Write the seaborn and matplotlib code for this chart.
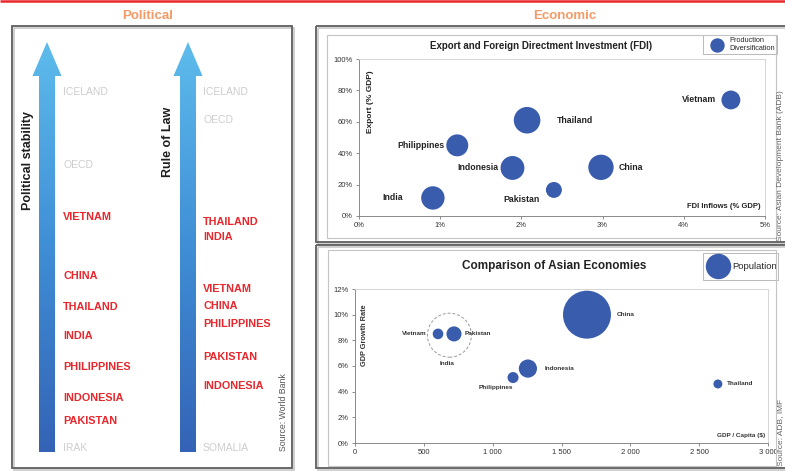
import numpy as np
import pandas as pd
import matplotlib
matplotlib.use("Agg")
import matplotlib.pyplot as plt
import seaborn as sns
from matplotlib.patches import Rectangle, Polygon
from matplotlib.colors import LinearSegmentedColormap
from matplotlib.lines import Line2D
from matplotlib.legend_handler import HandlerLine2D

# ---------------- data ----------------
# Political rankings (percentile scale: 0 = worst, 100 = best)
stability_labels = ["ICELAND", "OECD", "VIETNAM", "CHINA", "THAILAND", "INDIA",
                    "PHILIPPINES", "INDONESIA", "PAKISTAN", "IRAK"]
stability_scores = [100, 79.5, 64.9, 48.3, 39.6, 31.5, 22.8, 14.0, 7.6, 0]
law_labels = ["ICELAND", "OECD", "THAILAND", "INDIA", "VIETNAM", "CHINA",
              "PHILIPPINES", "PAKISTAN", "INDONESIA", "SOMALIA"]
law_scores = [100, 92.1, 63.5, 59.3, 44.7, 39.9, 34.8, 25.6, 17.4, 0]
benchmarks = {"ICELAND", "OECD", "IRAK", "SOMALIA"}

# Exports vs FDI inflows, bubble = production diversification
fdi_countries = ["India", "Philippines", "Indonesia", "Thailand", "Pakistan", "China", "Vietnam"]
fdi_inflows = [0.91, 1.21, 1.89, 2.07, 2.40, 2.98, 4.58]          # % of GDP
exports_gdp = [11.5, 45.0, 30.6, 61.0, 16.6, 31.0, 73.9]          # % of GDP
diversification = [6.9, 6.1, 7.2, 8.9, 3.2, 8.1, 4.5]

# GDP growth vs GDP per capita, bubble = population (millions)
eco_countries = ["Vietnam", "India", "Pakistan", "China", "Indonesia", "Philippines", "Thailand"]
gdp_per_capita = [603, 686, 719, 1685, 1256, 1148, 2636]
gdp_growth = [8.5, 8.4, 8.5, 10.0, 5.8, 5.1, 4.6]
population = [65, 1110, 130, 1320, 190, 70, 46]

# ---------------- style ----------------
sns.set_theme(style="white")
plt.rcParams["font.family"] = ["Liberation Sans", "DejaVu Sans"]

W, H = 785, 471
BLUE = "#3A5CAD"
RED = "#E8262B"
ORANGE = "#F39A66"
PX = 0.72  # points per pixel at 100 dpi


def fx(px):
    return px / W


def fy(py):
    return 1 - py / H


class CenteredMarkerHandler(HandlerLine2D):
    """Legend handler that keeps the marker vertically centred in its box."""

    def create_artists(self, legend, orig_handle, xdescent, ydescent, width, height,
                       fontsize, trans):
        return super().create_artists(legend, orig_handle, xdescent, 2 * ydescent,
                                      width, height, fontsize, trans)


fig = plt.figure(figsize=(W / 100, H / 100), dpi=100)

# ---------------- economic charts ----------------
ax1 = fig.add_axes([fx(359), fy(216), (765 - 359) / W, (216 - 59) / H])
ax2 = fig.add_axes([fx(355), fy(443), (768 - 355) / W, (443 - 289) / H])

fdi_df = pd.DataFrame({"country": fdi_countries, "fdi": fdi_inflows,
                       "exports": exports_gdp, "div": diversification})
eco_df = pd.DataFrame({"country": eco_countries, "gdppc": gdp_per_capita,
                       "growth": gdp_growth, "pop": population})

sns.scatterplot(data=fdi_df, x="fdi", y="exports", size="div",
                sizes=(0, 411), size_norm=(0, 10), color=BLUE,
                linewidth=0, legend=False, ax=ax1, zorder=3)

filled = eco_df[eco_df["country"] != "India"]
hollow = eco_df[eco_df["country"] == "India"]
sns.scatterplot(data=filled, x="gdppc", y="growth", size="pop",
                sizes=(0, 1355), size_norm=(0, 1500), color=BLUE,
                linewidth=0, legend=False, ax=ax2, zorder=3)
sns.scatterplot(data=hollow, x="gdppc", y="growth", size="pop",
                sizes=(0, 1355), size_norm=(0, 1500), color=BLUE,
                legend=False, ax=ax2, zorder=2)
ring = ax2.collections[-1]
ring.set_facecolor("none")
ring.set_edgecolor("#9A9A9A")
ring.set_linewidth(0.7)
ring.set_linestyle((0, (3, 2)))

# label offsets in pixels (dx right, dy down) and alignment
fdi_label_pos = {"India": (-30, 0, "right"), "Philippines": (-13, 0, "right"),
                 "Indonesia": (-14, 0, "right"), "Thailand": (30, 0, "left"),
                 "Pakistan": (-32, 10, "center"), "China": (18, 0, "left"),
                 "Vietnam": (-15, 0, "right")}
eco_label_pos = {"Vietnam": (-11, 0, "right"), "India": (-2, 28, "center"),
                 "Pakistan": (11, 0, "left"), "China": (30, 0, "left"),
                 "Indonesia": (17, 0, "left"), "Philippines": (-17, 10, "center"),
                 "Thailand": (9, 0, "left")}

for c, x, y in zip(fdi_countries, fdi_inflows, exports_gdp):
    dx, dy, ha = fdi_label_pos[c]
    ax1.annotate(c, (x, y), xytext=(dx * PX, -dy * PX), textcoords="offset points",
                 ha=ha, va="center", fontsize=6.3, fontweight="bold", color="#222222")
for c, x, y in zip(eco_countries, gdp_per_capita, gdp_growth):
    dx, dy, ha = eco_label_pos[c]
    ax2.annotate(c, (x, y), xytext=(dx * PX, -dy * PX), textcoords="offset points",
                 ha=ha, va="center", fontsize=4.6, fontweight="bold", color="#333333")

ax1.set_xlim(0, 5)
ax1.set_ylim(0, 100)
ax1.set_xticks(range(0, 6))
ax1.set_xticklabels([f"{v}%" for v in range(0, 6)])
ax1.set_yticks(range(0, 101, 20))
ax1.set_yticklabels([f"{v}%" for v in range(0, 101, 20)])

ax2.set_xlim(0, 3000)
ax2.set_ylim(0, 12)
ax2.set_xticks(range(0, 3001, 500))
ax2.set_xticklabels(["0", "500", "1 000", "1 500", "2 000", "2 500", "3 000"])
ax2.set_yticks(range(0, 13, 2))
ax2.set_yticklabels([f"{v}%" for v in range(0, 13, 2)])

for ax in (ax1, ax2):
    ax.set_xlabel("")
    ax.set_ylabel("")
    ax.tick_params(axis="both", which="major", labelsize=5.5, length=2.5, width=0.6,
                   color="#7A7A7A", labelcolor="#333333", pad=2, direction="out",
                   bottom=True, left=True)
    for side in ("left", "bottom"):
        ax.spines[side].set_color("#8A8A8A")
        ax.spines[side].set_linewidth(0.7)
    for side in ("top", "right"):
        ax.spines[side].set_color("#D5D5D5")
        ax.spines[side].set_linewidth(0.7)

# legends
h1 = Line2D([], [], ls="", marker="o", markersize=13 * PX,
            markerfacecolor=BLUE, markeredgecolor=BLUE)
leg1 = ax1.legend([h1], ["Production\nDiversification"], loc="upper right",
                  bbox_to_anchor=(fx(777), fy(35)), bbox_transform=fig.transFigure,
                  handler_map={h1: CenteredMarkerHandler()},
                  fontsize=5.3, frameon=True, fancybox=False, borderpad=0.3,
                  handletextpad=0.15, borderaxespad=0, handlelength=3.1,
                  handleheight=2.4, labelspacing=0.2)
leg1.get_frame().set_edgecolor("#9A9A9A")
leg1.get_frame().set_linewidth(0.6)

h2 = Line2D([], [], ls="", marker="o", markersize=24 * PX,
            markerfacecolor=BLUE, markeredgecolor=BLUE)
leg2 = ax2.legend([h2], ["Population"], loc="upper right",
                  bbox_to_anchor=(fx(778), fy(253)), bbox_transform=fig.transFigure,
                  handler_map={h2: CenteredMarkerHandler()},
                  fontsize=6.8, frameon=True, fancybox=False, borderpad=0.15,
                  handletextpad=0.05, borderaxespad=0, handlelength=2.85,
                  handleheight=3.55)
leg2.get_frame().set_edgecolor("#9A9A9A")
leg2.get_frame().set_linewidth(0.6)

# ---------------- overlay: frames, titles, arrows ----------------
ov = fig.add_axes([0, 0, 1, 1], zorder=10)
ov.patch.set_alpha(0)

grad = np.linspace(0, 1, 256).reshape(-1, 1)
arrow_cmap = LinearSegmentedColormap.from_list("arrow", ["#5EBCEC", "#3F8ED6", "#3463B6"])


def draw_arrow(cx, top=42, head_base=76, bottom=452, shaft=8, head=14.5):
    pts = [(cx - shaft, bottom), (cx - shaft, head_base), (cx - head, head_base), (cx, top),
           (cx + head, head_base), (cx + shaft, head_base), (cx + shaft, bottom)]
    clip = Polygon(pts, closed=True, facecolor="none", edgecolor="none")
    ov.add_patch(clip)
    im = ov.imshow(grad, cmap=arrow_cmap, extent=(cx - head - 1, cx + head + 1, bottom, top),
                   aspect="auto", origin="upper", interpolation="bilinear", zorder=2)
    im.set_clip_path(clip)


draw_arrow(47)
draw_arrow(188)

ov.set_xlim(0, W)
ov.set_ylim(H, 0)
ov.axis("off")

# top rule
ov.plot([0, W], [1, 1], color=RED, lw=1.8, solid_capstyle="butt")

# panel boxes (with a soft shadow)
for (x0, y0, w, h) in [(12, 26, 280, 442), (316, 26, 480, 216), (316, 245, 480, 223)]:
    ov.add_patch(Rectangle((x0 + 1.5, y0 + 1.5), w, h, fill=False, ec="#C8C8C8", lw=1.2))
    ov.add_patch(Rectangle((x0, y0), w, h, fill=False, ec="#5E5E5E", lw=1.3))

# chart frames
ov.add_patch(Rectangle((327, 35), 449, 203, fill=False, ec="#C4C4C4", lw=0.8))
ov.add_patch(Rectangle((328, 250), 448, 216, fill=False, ec="#C4C4C4", lw=0.8))

ov.text(148, 16, "Political", color=ORANGE, fontsize=9.5, fontweight="bold",
        ha="center", va="center")
ov.text(565, 16, "Economic", color=ORANGE, fontsize=9.5, fontweight="bold",
        ha="center", va="center")

ov.text(28, 161, "Political stability", rotation=90, fontsize=9, fontweight="bold",
        color="#1E1E1E", ha="center", va="center")
ov.text(168, 142, "Rule of Law", rotation=90, fontsize=9, fontweight="bold",
        color="#1E1E1E", ha="center", va="center")
ov.text(283, 412, "Source: World Bank", rotation=90, fontsize=6.3,
        color="#555555", ha="center", va="center")

ov.text(541, 46, "Export and Foreign Directment Investment (FDI)", fontsize=7,
        fontweight="bold", color="#222222", ha="center", va="center")
ov.text(370, 102, "Export (% GDP)", rotation=90, fontsize=6, fontweight="bold",
        color="#222222", ha="center", va="center")
ov.text(761, 207, "FDI Inflows (% GDP)", fontsize=5.5, fontweight="bold",
        color="#222222", ha="right", va="center")

ov.text(554, 266, "Comparison of Asian Economies", fontsize=8.5, fontweight="bold",
        color="#222222", ha="center", va="center")
ov.text(365, 335, "GDP Growth Rate", rotation=90, fontsize=5.3, fontweight="bold",
        color="#333333", ha="center", va="center")
ov.text(765, 435, "GDP / Capita ($)", fontsize=4.6, fontweight="bold",
        color="#333333", ha="right", va="center")

ov.text(780.5, 241, "Source: Asian Development Bank (ADB)", rotation=90, fontsize=6,
        color="#666666", ha="center", va="bottom")
ov.text(780.5, 466, "Source: ADB, IMF", rotation=90, fontsize=6,
        color="#666666", ha="center", va="bottom")

# ---------------- political rankings ----------------
ax_rank = fig.add_axes([0, fy(448), fx(292), (448 - 92) / H], zorder=11)
ax_rank.patch.set_alpha(0)
ax_rank.set_xlim(0, 292)
ax_rank.set_ylim(0, 100)
ax_rank.axis("off")

for x0, labels, scores in [(63, stability_labels, stability_scores),
                           (203, law_labels, law_scores)]:
    for lab, sc in zip(labels, scores):
        if lab in benchmarks:
            ax_rank.text(x0, sc, lab, fontsize=7.5, color="#CDCDCD",
                         ha="left", va="center")
        else:
            ax_rank.text(x0, sc, lab, fontsize=7.8, fontweight="bold", color=RED,
                         ha="left", va="center")

fig.savefig("out.png", dpi=100, facecolor="white")
